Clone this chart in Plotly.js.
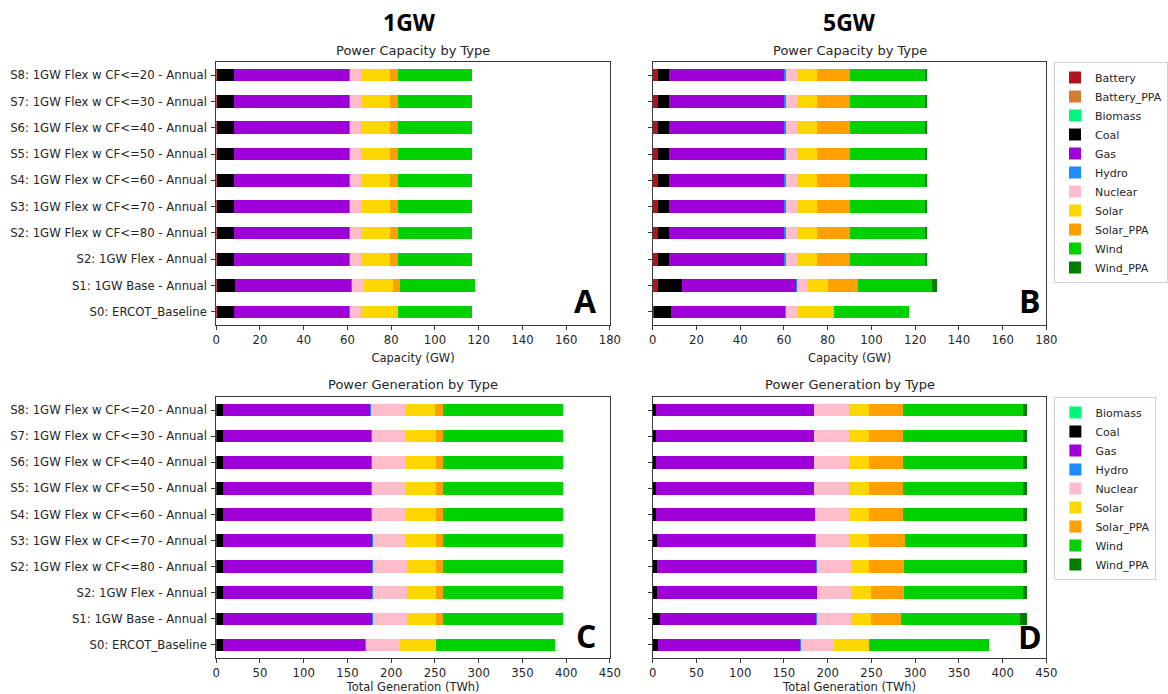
<!DOCTYPE html>
<html>
<head>
<meta charset="utf-8">
<script src="https://cdn.plot.ly/plotly-3.0.1.min.js"></script>
<style>html,body{margin:0;padding:0;background:#fff;}#chart{width:1168px;height:694px;}</style>
</head>
<body>
<div id="chart"></div>
<script>
// Scenario categories (bottom to top)
const scenarios = [
  "S0: ERCOT_Baseline",
  "S1: 1GW Base - Annual",
  "S2: 1GW Flex - Annual",
  "S2: 1GW Flex w CF<=80 - Annual",
  "S3: 1GW Flex w CF<=70 - Annual",
  "S4: 1GW Flex w CF<=60 - Annual",
  "S5: 1GW Flex w CF<=50 - Annual",
  "S6: 1GW Flex w CF<=40 - Annual",
  "S7: 1GW Flex w CF<=30 - Annual",
  "S8: 1GW Flex w CF<=20 - Annual"
];

const capTypes = ["Battery","Battery_PPA","Biomass","Coal","Gas","Hydro","Nuclear","Solar","Solar_PPA","Wind","Wind_PPA"];
const genTypes = ["Biomass","Coal","Gas","Hydro","Nuclear","Solar","Solar_PPA","Wind","Wind_PPA"];

// Panel A: 1GW capacity (GW)
const capA_Battery    = [0.4, 0.4, 0.4, 0.4, 0.4, 0.4, 0.4, 0.4, 0.4, 0.4];
const capA_Battery_PPA= [0, 0, 0, 0, 0, 0, 0, 0, 0, 0];
const capA_Biomass    = [0, 0, 0, 0, 0, 0, 0, 0, 0, 0];
const capA_Coal       = [7.8, 8.4, 7.8, 7.8, 7.8, 7.8, 7.8, 7.8, 7.8, 7.8];
const capA_Gas        = [52.5, 52.9, 52.5, 52.5, 52.5, 52.5, 52.5, 52.5, 52.5, 52.5];
const capA_Hydro      = [0.5, 0.5, 0.5, 0.5, 0.5, 0.5, 0.5, 0.5, 0.5, 0.5];
const capA_Nuclear    = [5.0, 5.2, 5.0, 5.0, 5.0, 5.0, 5.0, 5.0, 5.0, 5.0];
const capA_Solar      = [16.8, 13.2, 13.2, 13.2, 13.2, 13.2, 13.2, 13.2, 13.2, 13.2];
const capA_Solar_PPA  = [0, 3.5, 3.6, 3.6, 3.6, 3.6, 3.6, 3.6, 3.6, 3.6];
const capA_Wind       = [34.0, 34.2, 34.0, 34.0, 34.0, 34.0, 34.0, 34.0, 34.0, 34.0];
const capA_Wind_PPA   = [0, 0, 0, 0, 0, 0, 0, 0, 0, 0];

// Panel B: 5GW capacity (GW)
const capB_Battery    = [0.6, 2.3, 2.3, 2.3, 2.3, 2.3, 2.3, 2.3, 2.3, 2.3];
const capB_Battery_PPA= [0, 0, 0, 0, 0, 0, 0, 0, 0, 0];
const capB_Biomass    = [0, 0, 0, 0, 0, 0, 0, 0, 0, 0];
const capB_Coal       = [7.6, 10.9, 5.2, 5.2, 5.2, 5.2, 5.2, 5.2, 5.2, 5.2];
const capB_Gas        = [52.2, 52.4, 52.7, 52.7, 52.7, 52.7, 52.7, 52.7, 52.7, 52.7];
const capB_Hydro      = [0.5, 0.5, 0.5, 0.5, 0.5, 0.5, 0.5, 0.5, 0.5, 0.5];
const capB_Nuclear    = [5.3, 5.0, 5.3, 5.3, 5.3, 5.3, 5.3, 5.3, 5.3, 5.3];
const capB_Solar      = [16.7, 9.1, 9.2, 9.2, 9.2, 9.2, 9.2, 9.2, 9.2, 9.2];
const capB_Solar_PPA  = [0, 13.5, 15.0, 15.0, 15.0, 15.0, 15.0, 15.0, 15.0, 15.0];
const capB_Wind       = [34.1, 34.1, 34.1, 34.1, 34.1, 34.1, 34.1, 34.1, 34.1, 34.1];
const capB_Wind_PPA   = [0, 2.4, 1.2, 1.2, 1.2, 1.2, 1.2, 1.2, 1.2, 1.2];

// Panel C: 1GW generation (TWh)
const genC_Biomass   = [0, 0, 0, 0, 0, 0, 0, 0, 0, 0];
const genC_Coal      = [7.3, 8.1, 8.1, 7.3, 7.3, 7.3, 7.3, 7.3, 7.3, 7.3];
const genC_Gas       = [163.3, 170.1, 170.1, 170.4, 170.4, 170.1, 170.1, 169.7, 169.3, 168.9];
const genC_Hydro     = [1, 1, 1, 1, 1, 1, 1, 1, 1, 1];
const genC_Nuclear   = [38.0, 39.1, 39.1, 39.5, 38.0, 38.4, 38.4, 38.7, 39.1, 39.5];
const genC_Solar     = [41.1, 32.8, 32.8, 32.8, 34.3, 34.3, 34.3, 34.3, 34.3, 33.2];
const genC_Solar_PPA = [0, 8.3, 8.3, 8.3, 8.3, 8.3, 8.3, 8.3, 8.3, 9.4];
const genC_Wind      = [137.0, 137.0, 137.0, 137.0, 137.0, 137.0, 137.0, 137.0, 137.0, 137.0];
const genC_Wind_PPA  = [0, 0, 0, 0, 0, 0, 0, 0, 0, 0];

// Panel D: 5GW generation (TWh)
const genD_Biomass   = [0, 0, 0, 0, 0, 0, 0, 0, 0, 0];
const genD_Coal      = [5.9, 7.8, 5.1, 5.1, 5.1, 4.0, 4.0, 4.0, 4.0, 4.0];
const genD_Gas       = [162.0, 179.0, 182.1, 181.3, 180.6, 180.9, 179.8, 179.8, 179.8, 179.8];
const genD_Hydro     = [1, 1, 1, 1, 1, 1, 1, 1, 1, 1];
const genD_Nuclear   = [38.1, 38.9, 38.5, 39.3, 38.9, 39.7, 40.0, 40.0, 40.0, 40.0];
const genD_Solar     = [40.5, 22.3, 22.7, 20.8, 22.0, 22.0, 22.7, 22.7, 22.7, 22.7];
const genD_Solar_PPA = [0, 34.8, 38.3, 40.2, 40.2, 39.0, 39.0, 39.0, 39.0, 39.0];
const genD_Wind      = [137.1, 136.0, 136.0, 136.0, 136.0, 137.1, 137.1, 137.1, 137.1, 137.1];
const genD_Wind_PPA  = [0, 8.3, 4.5, 4.5, 4.5, 4.5, 4.5, 4.5, 4.5, 4.5];

const colors = {
  Battery: "#B0141E", Battery_PPA: "#D27F33", Biomass: "#00F57A", Coal: "#000000",
  Gas: "#A000D8", Hydro: "#1E8CFF", Nuclear: "#FFBCCB", Solar: "#FFD700",
  Solar_PPA: "#FFA000", Wind: "#00D000", Wind_PPA: "#007D00"
};

const capA = {Battery:capA_Battery, Battery_PPA:capA_Battery_PPA, Biomass:capA_Biomass, Coal:capA_Coal, Gas:capA_Gas, Hydro:capA_Hydro, Nuclear:capA_Nuclear, Solar:capA_Solar, Solar_PPA:capA_Solar_PPA, Wind:capA_Wind, Wind_PPA:capA_Wind_PPA};
const capB = {Battery:capB_Battery, Battery_PPA:capB_Battery_PPA, Biomass:capB_Biomass, Coal:capB_Coal, Gas:capB_Gas, Hydro:capB_Hydro, Nuclear:capB_Nuclear, Solar:capB_Solar, Solar_PPA:capB_Solar_PPA, Wind:capB_Wind, Wind_PPA:capB_Wind_PPA};
const genC = {Biomass:genC_Biomass, Coal:genC_Coal, Gas:genC_Gas, Hydro:genC_Hydro, Nuclear:genC_Nuclear, Solar:genC_Solar, Solar_PPA:genC_Solar_PPA, Wind:genC_Wind, Wind_PPA:genC_Wind_PPA};
const genD = {Biomass:genD_Biomass, Coal:genD_Coal, Gas:genD_Gas, Hydro:genD_Hydro, Nuclear:genD_Nuclear, Solar:genD_Solar, Solar_PPA:genD_Solar_PPA, Wind:genD_Wind, Wind_PPA:genD_Wind_PPA};

const traces = [];
function addPanel(types, data, xa, ya, legendName, showLeg) {
  types.forEach(t => {
    traces.push({
      type: "bar", orientation: "h", name: t,
      x: data[t], y: scenarios,
      xaxis: xa, yaxis: ya,
      marker: {color: colors[t], line: {width: 0}},
      width: 0.48,
      showlegend: showLeg,
      legend: legendName,
      hoverinfo: "x+name"
    });
  });
}
addPanel(capTypes, capA, "x", "y", "legend", false);
addPanel(capTypes, capB, "x2", "y2", "legend", true);
addPanel(genTypes, genC, "x3", "y3", "legend2", false);
addPanel(genTypes, genD, "x4", "y4", "legend2", true);

const W = 1168, H = 694;
const px = v => v / W, py = v => 1 - v / H;
const font = "DejaVu Sans, sans-serif";
const txt = "#262626";

function xax(l, r, anchor, range, dtick, title) {
  return {
    domain: [px(l), px(r)], anchor: anchor, range: range, dtick: dtick,
    showline: true, mirror: true, linecolor: "#3a3a3a", linewidth: 1,
    ticks: "outside", ticklen: 4, tickcolor: "#3a3a3a",
    showgrid: false, zeroline: false, fixedrange: true,
    tickfont: {family: font, size: 11.7, color: txt},
    title: {text: title, font: {family: font, size: 11.5, color: txt}, standoff: 7}
  };
}
function yax(t, b, anchor, showLabels) {
  return {
    domain: [py(b), py(t)], anchor: anchor, type: "category",
    categoryorder: "array", categoryarray: scenarios, range: [-0.5, 9.5],
    showline: true, mirror: true, linecolor: "#3a3a3a", linewidth: 1,
    ticks: "outside", ticklen: 4, tickcolor: "#3a3a3a",
    showgrid: false, zeroline: false, fixedrange: true,
    showticklabels: showLabels, ticklabelstandoff: 2,
    tickfont: {family: font, size: 11.7, color: txt}
  };
}

const topT = 62, topB = 325, botT = 397, botB = 658;
const leftL = 217, leftR = 612, rightL = 655, rightR = 1050;

const legendCommon = {
  xanchor: "left", yanchor: "top", bgcolor: "#fff", bordercolor: "#d0d0d0", borderwidth: 1,
  font: {family: font, size: 11, color: txt}, traceorder: "normal", tracegroupgap: 0, itemwidth: 30
};

const annotations = [
  {text: "<b>1GW</b>", x: px(411), y: py(22), font: {family: "Open Sans, sans-serif", size: 23, color: "#000"}},
  {text: "<b>5GW</b>", x: px(852), y: py(22), font: {family: "Open Sans, sans-serif", size: 23, color: "#000"}},
  {text: "Power Capacity by Type", x: px((leftL+leftR)/2), y: py(51), font: {family: font, size: 13, color: txt}},
  {text: "Power Capacity by Type", x: px((rightL+rightR)/2), y: py(51), font: {family: font, size: 13, color: txt}},
  {text: "Power Generation by Type", x: px((leftL+leftR)/2), y: py(384), font: {family: font, size: 13, color: txt}},
  {text: "Power Generation by Type", x: px((rightL+rightR)/2), y: py(384), font: {family: font, size: 13, color: txt}},
  {text: "<b>A</b>", x: px(588), y: py(300), font: {family: "Open Sans, sans-serif", size: 32, color: "#000"}},
  {text: "<b>B</b>", x: px(1034), y: py(301), font: {family: "Open Sans, sans-serif", size: 32, color: "#000"}},
  {text: "<b>C</b>", x: px(588), y: py(635), font: {family: "Open Sans, sans-serif", size: 32, color: "#000"}},
  {text: "<b>D</b>", x: px(1034), y: py(636), font: {family: "Open Sans, sans-serif", size: 32, color: "#000"}}
].map(a => Object.assign({xref: "paper", yref: "paper", showarrow: false, xanchor: "center", yanchor: "middle"}, a));

const layout = {
  width: W, height: H, margin: {l: 0, r: 0, t: 0, b: 0},
  paper_bgcolor: "#fff", plot_bgcolor: "#fff",
  barmode: "stack", bargap: 0.5,
  showlegend: true,
  xaxis: xax(leftL, leftR, "y", [0, 180], 20, "Capacity (GW)"),
  yaxis: yax(topT, topB, "x", true),
  xaxis2: xax(rightL, rightR, "y2", [0, 180], 20, "Capacity (GW)"),
  yaxis2: yax(topT, topB, "x2", false),
  xaxis3: xax(leftL, leftR, "y3", [0, 450], 50, "Total Generation (TWh)"),
  yaxis3: yax(botT, botB, "x3", true),
  xaxis4: xax(rightL, rightR, "y4", [0, 450], 50, "Total Generation (TWh)"),
  yaxis4: yax(botT, botB, "x4", false),
  legend: Object.assign({x: px(1058), y: py(62)}, legendCommon),
  legend2: Object.assign({x: px(1058), y: py(397)}, legendCommon),
  annotations: annotations
};

Plotly.newPlot("chart", traces, layout, {displayModeBar: false, staticPlot: true});
</script>
</body>
</html>
